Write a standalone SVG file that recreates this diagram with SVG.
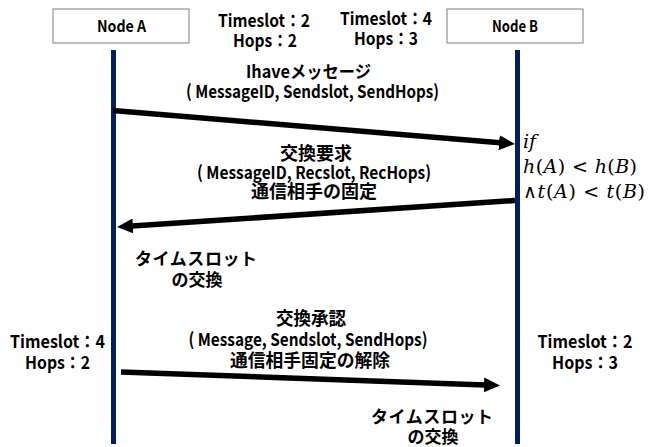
<svg xmlns="http://www.w3.org/2000/svg" width="662" height="447" viewBox="0 0 662 447">
<style>
.box{fill:#fff;stroke:#7f7f7f;stroke-width:1}
.life{stroke:#002060;stroke-width:5}
.msg{stroke:#000;stroke-width:5.5;fill:none}
text{font-family:"Noto Sans CJK JP","Liberation Sans",sans-serif;font-weight:bold;fill:#000;text-anchor:middle}
.n{font-size:16px}
.t{font-size:17.5px}
.j{font-size:18px}
.k{font-size:17px}
.m{font-family:"DejaVu Serif","Liberation Serif",serif;font-weight:normal;font-size:19px;text-anchor:start}
.i{font-style:italic}
</style>
<defs>
<marker id="ah" markerUnits="userSpaceOnUse" markerWidth="16" markerHeight="15" refX="1" refY="7.5" orient="auto" viewBox="0 0 16 15">
<path d="M0,0 L16,7.5 L0,15 z" fill="#000"/>
</marker>
</defs>
<g id="nodeA">
<rect class="box" x="53" y="9" width="136" height="34"/>
<text class="n" x="121.5" y="32" textLength="49" lengthAdjust="spacingAndGlyphs">Node A</text>
<line class="life" x1="113.5" y1="50" x2="113.5" y2="444"/>
</g>
<g id="nodeB">
<rect class="box" x="447" y="9" width="136" height="34"/>
<text class="n" x="515" y="32" textLength="46" lengthAdjust="spacingAndGlyphs">Node B</text>
<line class="life" x1="517.5" y1="50" x2="517.5" y2="444"/>
</g>
<g id="connectors">
<line class="msg" x1="113" y1="110.5" x2="500.05" y2="142.75" marker-end="url(#ah)"/>
<line class="msg" x1="515" y1="200.5" x2="131.97" y2="226" marker-end="url(#ah)"/>
<line class="msg" x1="121" y1="372" x2="485" y2="384.97" marker-end="url(#ah)"/>
</g>
<g id="labels">
<text class="t" x="264" y="27" textLength="92" lengthAdjust="spacingAndGlyphs">Timeslot：2</text>
<text class="t" x="265" y="47" textLength="64" lengthAdjust="spacingAndGlyphs">Hops：2</text>
<text class="t" x="386" y="25" textLength="92" lengthAdjust="spacingAndGlyphs">Timeslot：4</text>
<text class="t" x="386" y="45" textLength="64" lengthAdjust="spacingAndGlyphs">Hops：3</text>
<text class="t" x="308.5" y="78" textLength="125" lengthAdjust="spacingAndGlyphs">Ihaveメッセージ</text>
<text class="t" x="312.5" y="98" textLength="253" lengthAdjust="spacingAndGlyphs">( MessageID, Sendslot, SendHops)</text>
<text class="j" x="316" y="160" textLength="72" lengthAdjust="spacingAndGlyphs">交換要求</text>
<text class="t" x="314" y="179" textLength="234" lengthAdjust="spacingAndGlyphs">( MessageID, Recslot, RecHops)</text>
<text class="j" x="314" y="198" textLength="126" lengthAdjust="spacingAndGlyphs">通信相手の固定</text>
<text class="m" x="523" y="148"><tspan class="i">if</tspan></text>
<text class="m" x="523" y="173" textLength="114" lengthAdjust="spacing"><tspan class="i">h</tspan>(<tspan class="i">A</tspan>) &lt; <tspan class="i">h</tspan>(<tspan class="i">B</tspan>)</text>
<text class="m" x="523" y="198" textLength="122" lengthAdjust="spacing">∧<tspan class="i">t</tspan>(<tspan class="i">A</tspan>) &lt; <tspan class="i">t</tspan>(<tspan class="i">B</tspan>)</text>
<text class="k" x="196" y="265" textLength="122" lengthAdjust="spacing">タイムスロット</text>
<text class="k" x="197" y="286">の交換</text>
<text class="j" x="311" y="325" textLength="70" lengthAdjust="spacingAndGlyphs">交換承認</text>
<text class="t" x="308" y="346" textLength="239" lengthAdjust="spacingAndGlyphs">( Message, Sendslot, SendHops)</text>
<text class="j" x="310" y="367" textLength="160" lengthAdjust="spacingAndGlyphs">通信相手固定の解除</text>
<text class="t" x="57.5" y="348" textLength="95" lengthAdjust="spacingAndGlyphs">Timeslot：4</text>
<text class="t" x="57.5" y="369" textLength="65" lengthAdjust="spacingAndGlyphs">Hops：2</text>
<text class="t" x="585" y="348" textLength="95" lengthAdjust="spacingAndGlyphs">Timeslot：2</text>
<text class="t" x="585" y="369" textLength="66" lengthAdjust="spacingAndGlyphs">Hops：3</text>
<text class="k" x="432" y="423" textLength="122" lengthAdjust="spacing">タイムスロット</text>
<text class="k" x="433" y="443">の交換</text>
</g>
</svg>
